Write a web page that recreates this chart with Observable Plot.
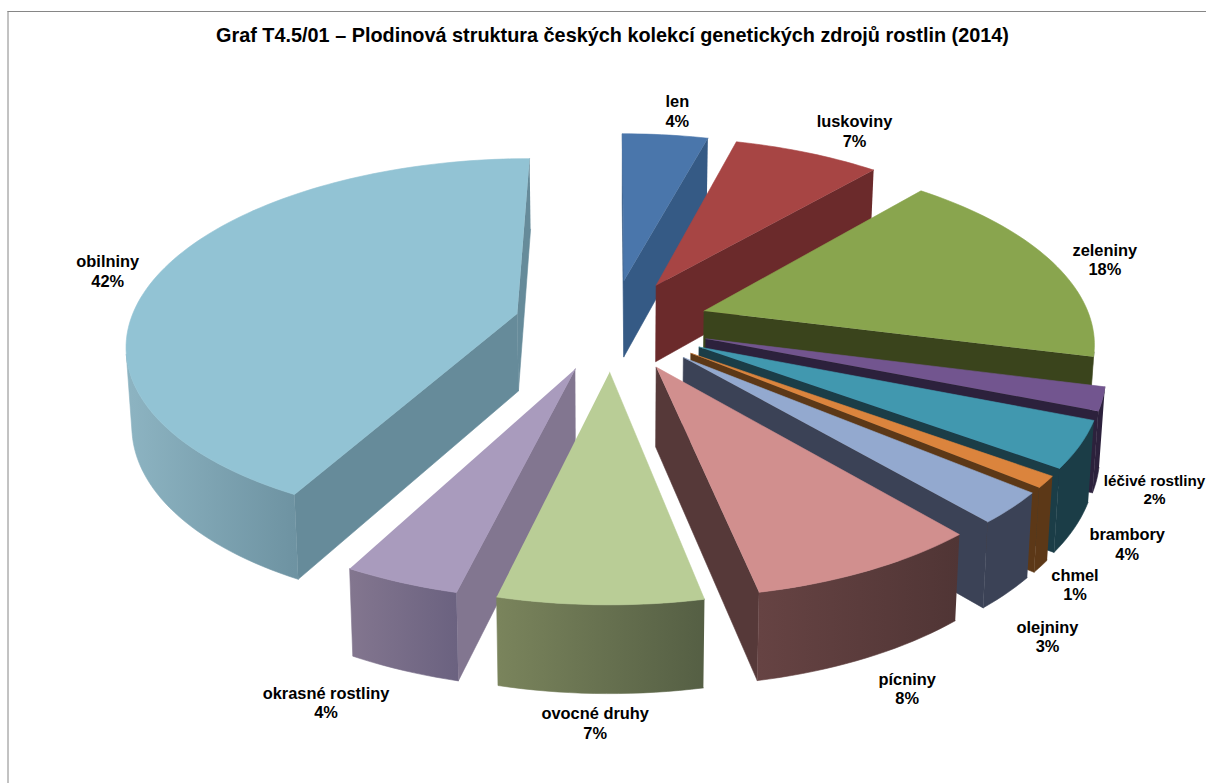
<!DOCTYPE html>
<html><head><meta charset="utf-8">
<script src="https://cdn.jsdelivr.net/npm/d3@7"></script>
<script src="https://cdn.jsdelivr.net/npm/@observablehq/plot@0.6"></script>
<style>html,body{margin:0;padding:0;background:#fff;overflow:hidden}svg{display:block}</style>
</head><body><div id="chart"></div>
<script>
const categories = ["len","luskoviny","zeleniny","léčivé rostliny","brambory","chmel","olejniny","pícniny","ovocné druhy","okrasné rostliny","obilniny"];
const shares = [4.2,7.2,17.6,2,4,1,2.7,8.1,7,4,42.2];
const title = "Graf T4.5/01 – Plodinová struktura českých kolekcí genetických zdrojů rostlin (2014)";

const topColors = ["#4A76AB","#A74544","#89A54E","#72558F","#4198AF","#DB843D","#93A9CF","#D18F8E","#B9CD96","#A99BBD","#92C3D4"];
const cutColors = ["#355A85","#6B2A2B","#3A441C","#2C213C","#1B3D47","#5C3817","#3B4256","#563939","#6A7350","#827690","#668B9A"];
const rimLight = ["#355A85","#6B2A2B","#3A441C","#2C213C","#1B3D47","#5C3817","#3B4256","#664343","#7A845C","#83768F","#8DB4C2"];
const rimDark = ["#355A85","#6B2A2B","#3A441C","#2C213C","#1B3D47","#5C3817","#3B4256","#503535","#555F44","#6B6280","#6E93A2"];
const labelDx = [12,47,54,52,47,29,36,38,-5,-75,-53];
const labelDy = [-24,-22,-1,90,99,102,128,118,118,120,-1];
const labelSize = [16.4,16.4,16.4,15.2,16.4,16.4,16.4,16.4,16.4,16.4,16.4];

// view of the tilted pie
const view = {cx:611, cy:324, a:400, b:187, p:0.156, explode:0.245, rim:0.97, depth:78, depthP:0.1, taper:0.012};
const W = 1206, H = 783;
function project(X, Y, down) {
  const w = 1 + view.p * Y;
  const sx = view.a * X / w, sy = -view.b * Y / w;
  const t = down ? view.depth / (1 + view.depthP * Y) : 0;
  return [view.cx + sx * (1 - (down ? view.taper : 0)), view.cy + sy + t];
}
const rad = d => d * Math.PI / 180;
let acc = 0;
const slices = categories.map((name, i) => {
  const a0 = acc / 100 * 360; acc += shares[i]; const a1 = acc / 100 * 360;
  return {name, i, a0, a1, mid: (a0 + a1) / 2};
});
function pt(s, ang, r, down) {
  const m = rad(s.mid), t = rad(ang), R = r * view.rim;
  return project(view.explode * Math.sin(m) + R * Math.sin(t), view.explode * Math.cos(m) + R * Math.cos(t), down);
}
const area = q => { let s = 0; q.forEach((p, i) => { const n = q[(i + 1) % q.length]; s += p[0] * n[1] - n[0] * p[1]; }); return s / 2; };
const rows = []; const gradients = []; let gid = 0;
const addFace = (poly, fill) => { const id = gid++; poly.forEach(p => rows.push({x:p[0], y:p[1], id, fill})); };
const order = slices.slice().sort((u, v) => Math.cos(rad(v.mid)) - Math.cos(rad(u.mid)));
for (const s of order) {
  const apexT = pt(s, s.a0, 0, false), apexB = pt(s, s.a0, 0, true);
  const startFace = [apexT, pt(s, s.a0, 1, false), pt(s, s.a0, 1, true), apexB];
  const endFace = [pt(s, s.a1, 1, false), apexT, apexB, pt(s, s.a1, 1, true)];
  if (area(startFace) < 0) addFace(startFace, cutColors[s.i]);
  if (area(endFace) < 0) addFace(endFace, cutColors[s.i]);
  const steps = Math.max(2, Math.ceil((s.a1 - s.a0) / 1.5));
  const angs = d3.range(steps + 1).map(k => s.a0 + (s.a1 - s.a0) * k / steps);
  const vis = [];
  for (let k = 0; k < steps; k++) {
    const q = [pt(s, angs[k], 1, false), pt(s, angs[k + 1], 1, false), pt(s, angs[k + 1], 1, true), pt(s, angs[k], 1, true)];
    if (area(q) < 0) vis.push(k);
  }
  if (vis.length) {
    const use = d3.range(vis[0], vis[vis.length - 1] + 2).map(k => angs[k]);
    const tops = use.map(a => pt(s, a, 1, false)), bots = use.map(a => pt(s, a, 1, true)).reverse();
    const [x0, x1] = d3.extent(tops, p => p[0]);
    const gid2 = `rim${s.i}`;
    gradients.push({id: gid2, x0, x1, a: rimLight[s.i], b: rimDark[s.i]});
    addFace([...tops, ...bots], `url(#${gid2})`);
  }
  addFace([apexT, ...angs.map(a => pt(s, a, 1, false))], topColors[s.i]);
}
const labels = slices.map(s => {
  const p = pt(s, s.mid, 1, false);
  return {x: p[0] + labelDx[s.i], y: p[1] + labelDy[s.i], text: `${s.name}\n${Math.round(shares[s.i])}%`, size: labelSize[s.i]};
});
const font = "'Liberation Sans', Arial, sans-serif";
const defsMark = () => {
  const defs = d3.create("svg:defs");
  for (const g of gradients) {
    const lg = defs.append("linearGradient").attr("id", g.id).attr("gradientUnits", "userSpaceOnUse")
      .attr("x1", g.x0).attr("x2", g.x1).attr("y1", 0).attr("y2", 0);
    lg.append("stop").attr("offset", 0).attr("stop-color", g.a);
    lg.append("stop").attr("offset", 1).attr("stop-color", g.b);
  }
  return defs.node();
};
const chart = Plot.plot({
  width: W, height: H, margin: 0,
  x: {domain: [0, W], range: [0, W], axis: null},
  y: {domain: [0, H], range: [0, H], axis: null},
  marks: [
    defsMark,
    Plot.ruleX([7.5], {y1: 11, y2: H, stroke: "#868686", strokeWidth: 1}),
    Plot.ruleY([11], {x1: 7.5, x2: W, stroke: "#868686", strokeWidth: 1}),
    Plot.line(rows, {x: "x", y: "y", z: "id", fill: {value: "fill", scale: null}, stroke: {value: "fill", scale: null}, strokeWidth: 0.6}),
    Plot.text(labels, {x: "x", y: "y", text: "text", fontFamily: font, fontWeight: "bold", fontSize: "size", lineHeight: 1.18, fill: "#000"}),
    Plot.text([title], {x: () => 612, y: () => 35, text: d => d, fontFamily: font, fontWeight: "bold", fontSize: 19.85, fill: "#000"})
  ]
});
chart.style.background = "#fff";
document.getElementById("chart").append(chart);
</script></body></html>
